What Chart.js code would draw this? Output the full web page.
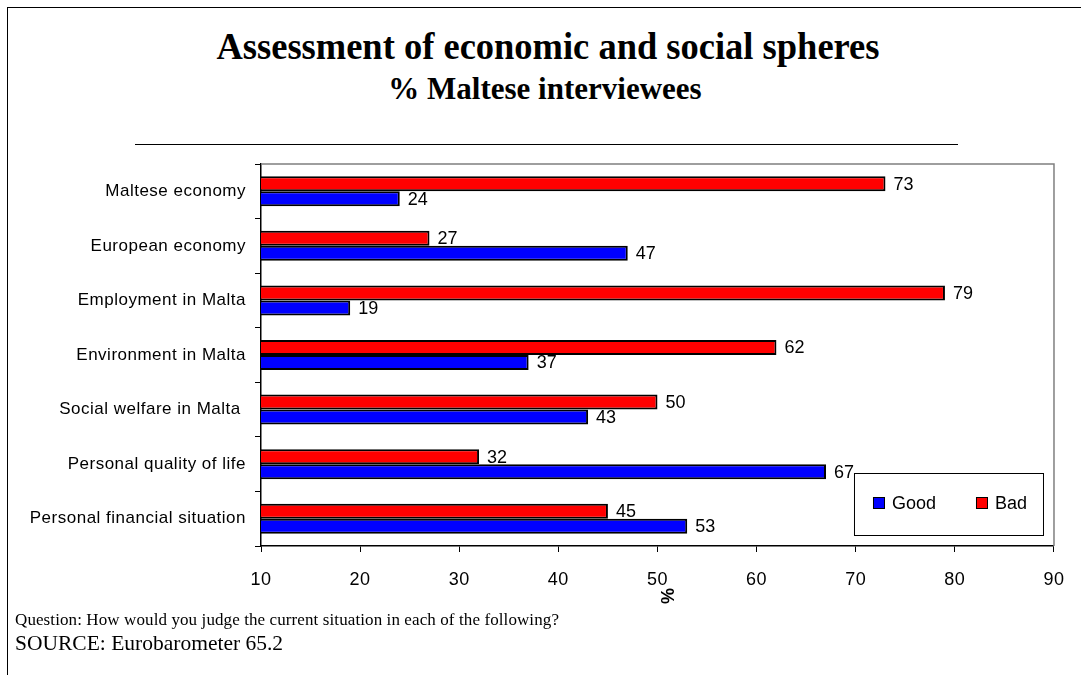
<!DOCTYPE html>
<html>
<head>
<meta charset="utf-8">
<script src="https://cdn.jsdelivr.net/npm/chart.js@4"></script>
<style>
  html, body { margin: 0; padding: 0; background: #fff; }
  body { width: 1081px; height: 675px; position: relative; overflow: hidden; }
  #frame { position: absolute; left: 7px; top: 7px; width: 1100px; height: 700px;
           border-left: 1.5px solid #000; border-top: 1.5px solid #000; }
  .txt { position: absolute; white-space: nowrap; color: #000; }
  #title { left: -52px; width: 1200px; top: 24px; text-align: center; line-height: 38px;
           font: bold 38px 'Liberation Serif', 'Times New Roman', serif; transform: scaleX(0.96); }
  #subtitle { left: -55px; width: 1200px; top: 71px; text-align: center; line-height: 31px;
              font: bold 31px 'Liberation Serif', 'Times New Roman', serif; }
  #rule { position: absolute; left: 135px; top: 144px; width: 823px; border-top: 1.5px solid #000; }
  #question { left: 15px; top: 610px; line-height: 17px; letter-spacing: 0.1px;
              font: 17px 'Liberation Serif', 'Times New Roman', serif; }
  #source { left: 15px; top: 631px; line-height: 21.5px;
            font: 21.5px 'Liberation Serif', 'Times New Roman', serif; }
  #myChart { position: absolute; left: 0; top: 0; }
</style>
</head>
<body>
<div id="frame"></div>
<div class="txt" id="title">Assessment of economic and social spheres</div>
<div class="txt" id="subtitle">% Maltese interviewees</div>
<div id="rule"></div>
<canvas id="myChart" width="1081" height="675"></canvas>
<div class="txt" id="question">Question: How would you judge the current situation in each of the following?</div>
<div class="txt" id="source">SOURCE: Eurobarometer 65.2</div>
<script>
const categories = [
  'Maltese economy',
  'European economy',
  'Employment in Malta',
  'Environment in Malta',
  'Social welfare in Malta ',
  'Personal quality of life',
  'Personal financial situation',
];
const goodValues = [24, 47, 19, 37, 43, 67, 53];
const badValues = [73, 27, 79, 62, 50, 32, 45];
const xTicks = [10, 20, 30, 40, 50, 60, 70, 80, 90];
const axisTitle = '%';

const sans = 'Arial, "Liberation Sans", sans-serif';

// the old PowerPoint export spaces its axis labels a little wider
const labelSpacing = {
  id: 'labelSpacing',
  beforeDraw(chart) { chart.ctx.letterSpacing = '0.5px'; },
  beforeDatasetsDraw(chart) { chart.ctx.letterSpacing = '0px'; },
};

// grey frame on top and right of the plot, like the Excel plot area
const plotFrame = {
  id: 'plotFrame',
  beforeDatasetsDraw(chart) {
    const { ctx, chartArea: a } = chart;
    ctx.save();
    ctx.strokeStyle = '#7f7f7f';
    ctx.lineWidth = 1.5;
    ctx.beginPath();
    ctx.moveTo(a.left, a.top);
    ctx.lineTo(a.right, a.top);
    ctx.lineTo(a.right, a.bottom);
    ctx.stroke();
    ctx.restore();
  },
};

const valueLabels = {
  id: 'valueLabels',
  afterDatasetsDraw(chart) {
    const ctx = chart.ctx;
    ctx.save();
    ctx.font = '18px ' + sans;
    ctx.fillStyle = '#000';
    ctx.textAlign = 'left';
    ctx.textBaseline = 'middle';
    chart.data.datasets.forEach((ds, i) => {
      chart.getDatasetMeta(i).data.forEach((bar, j) => {
        ctx.fillText(String(ds.data[j]), bar.x + 8, bar.y + 1);
      });
    });
    ctx.restore();
  },
};

const boxLegend = {
  id: 'boxLegend',
  afterDraw(chart) {
    const { ctx, chartArea: a } = chart;
    const x = a.right - 200;
    const y = a.bottom - 73;
    ctx.save();
    ctx.fillStyle = '#fff';
    ctx.fillRect(x, y, 189, 62);
    ctx.strokeStyle = '#000';
    ctx.lineWidth = 1;
    ctx.strokeRect(x + 0.5, y + 0.5, 189, 62);
    ctx.font = '18px ' + sans;
    ctx.textBaseline = 'middle';
    ctx.textAlign = 'left';
    // legend order: Good then Bad
    const items = [chart.data.datasets[1], chart.data.datasets[0]];
    const offsets = [19, 122];
    items.forEach((ds, k) => {
      const sx = x + offsets[k];
      ctx.fillStyle = ds.backgroundColor;
      ctx.fillRect(sx, y + 24, 12, 12);
      ctx.strokeStyle = '#000';
      ctx.strokeRect(sx + 0.5, y + 24.5, 11, 11);
      ctx.fillStyle = '#000';
      ctx.fillText(ds.label, sx + 19, y + 31);
    });
    ctx.restore();
  },
};

const xAxisTitle = {
  id: 'xAxisTitle',
  afterDraw(chart) {
    const ctx = chart.ctx;
    const xs = chart.scales.x;
    ctx.save();
    ctx.translate(xs.getPixelForValue(51.2), xs.top + 50);
    ctx.rotate(-Math.PI / 2);
    ctx.font = 'bold 18px ' + sans;
    ctx.fillStyle = '#000';
    ctx.textAlign = 'center';
    ctx.textBaseline = 'middle';
    ctx.fillText(axisTitle, 0, 0);
    ctx.restore();
  },
};

const ctx = document.getElementById('myChart').getContext('2d');
const chart = new Chart(ctx, {
  type: 'bar',
  data: {
    labels: categories,
    datasets: [
      {
        label: 'Bad',
        data: badValues,
        backgroundColor: '#ff0000',
        borderColor: '#000',
        borderWidth: 2,
        borderSkipped: false,
        categoryPercentage: 0.55,
        barPercentage: 1,
      },
      {
        label: 'Good',
        data: goodValues,
        backgroundColor: '#0000ff',
        borderColor: '#000',
        borderWidth: 2,
        borderSkipped: false,
        categoryPercentage: 0.55,
        barPercentage: 1,
      },
    ],
  },
  options: {
    indexAxis: 'y',
    responsive: false,
    animation: false,
    layout: { padding: { top: 164, right: 26, left: 0, bottom: 0 } },
    plugins: {
      legend: { display: false },
      tooltip: { enabled: false },
    },
    scales: {
      x: {
        min: xTicks[0],
        max: xTicks[xTicks.length - 1],
        afterBuildTicks(scale) {
          scale.ticks = xTicks.map((v) => ({ value: v }));
        },
        ticks: { color: '#000', font: { size: 18, family: sans }, padding: 17, maxRotation: 0 },
        grid: { drawOnChartArea: false, tickLength: 6, color: '#000', lineWidth: 1 },
        border: { color: '#000', width: 1.5 },
        afterFit(scale) { scale.height = 129; },
      },
      y: {
        ticks: { color: '#000', font: { size: 17, family: sans }, padding: 9 },
        grid: { drawOnChartArea: false, tickLength: 6, color: '#000', lineWidth: 1, offset: true },
        border: { color: '#000', width: 1.5 },
        afterFit(scale) { scale.width = 261; },
      },
    },
  },
  plugins: [labelSpacing, plotFrame, valueLabels, boxLegend, xAxisTitle],
});
</script>
</body>
</html>
